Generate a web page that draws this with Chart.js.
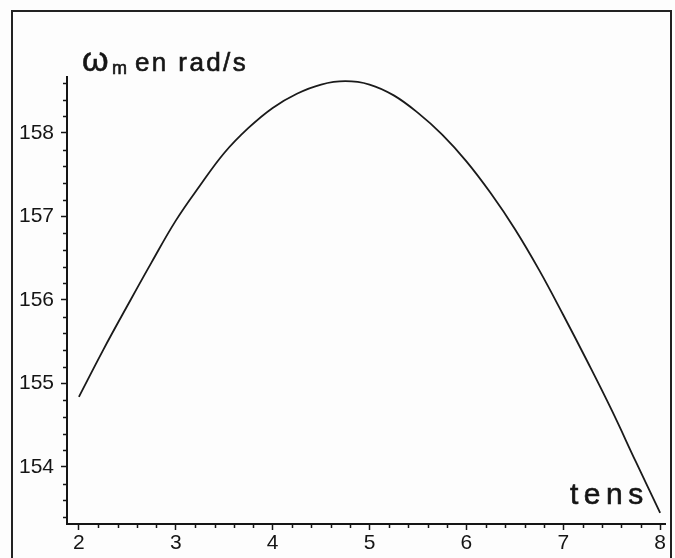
<!DOCTYPE html>
<html>
<head>
<meta charset="utf-8">
<script src="https://cdn.jsdelivr.net/npm/chart.js@4/dist/chart.umd.min.js"></script>
<style>
  html, body { margin: 0; padding: 0; background: #fff; }
  #wrap { width: 675px; height: 558px; }
</style>
</head>
<body>
<div id="wrap"><canvas id="omegaChart" width="675" height="558"></canvas></div>
<script>
// time t (s) and motor speed (rad/s)
const tValues = [2, 2.25, 2.5, 2.75, 3, 3.25, 3.5, 3.75, 4, 4.25, 4.5, 4.75, 5, 5.25, 5.5, 5.75, 6, 6.25, 6.5, 6.75, 7, 7.25, 7.5, 7.75, 8];
const omegaValues = [154.84, 155.40, 155.93, 156.45, 156.95, 157.37, 157.76, 158.06, 158.30, 158.47, 158.58, 158.62, 158.58, 158.45, 158.24, 157.98, 157.66, 157.28, 156.85, 156.36, 155.82, 155.26, 154.68, 154.06, 153.45];

// axis limits and labelled ticks
const xRange = [1.877, 8.05];
const yRange = [153.317, 158.67];
const xMajor = [2, 3, 4, 5, 6, 7, 8];
const yMajor = [154, 155, 156, 157, 158];

const INK = '#151515';
const tickFont = { family: '"Liberation Sans", Arial, sans-serif', size: 21 };

const isMajor = (v, list) => list.some(m => Math.abs(m - v) < 1e-6);

// text drawn one glyph at a time, slightly thickened like the scan
function spacedText(ctx, str, x, y, gap) {
  for (const ch of str) {
    ctx.fillText(ch, x, y);
    ctx.strokeText(ch, x, y);
    x += ctx.measureText(ch).width + gap;
  }
  return x;
}

/* ------------------------------
   frame, titles, minor ticks
------------------------------ */
const decorations = {
  id: 'decorations',
  beforeDraw(chart) {
    const { ctx } = chart;
    ctx.save();
    ctx.fillStyle = '#fdfdfd';
    ctx.fillRect(0, 0, chart.width, chart.height);
    ctx.strokeStyle = '#222';
    ctx.lineWidth = 2;
    ctx.beginPath();
    ctx.moveTo(12, 558);
    ctx.lineTo(12, 11);
    ctx.lineTo(671, 11);
    ctx.lineTo(671, 558);
    ctx.stroke();
    ctx.restore();
  },
  afterDraw(chart) {
    const { ctx } = chart;
    const xs = chart.scales.x, ys = chart.scales.y;
    ctx.save();
    ctx.strokeStyle = INK;
    ctx.lineWidth = 1.5;
    ctx.beginPath();
    xs.ticks.forEach(t => {
      if (isMajor(t.value, xMajor)) return;
      const px = Math.round(xs.getPixelForValue(t.value)) + 0.5;
      ctx.moveTo(px, xs.top);
      ctx.lineTo(px, xs.top + 4);
    });
    ys.ticks.forEach(t => {
      if (isMajor(t.value, yMajor)) return;
      const py = Math.round(ys.getPixelForValue(t.value)) + 0.5;
      ctx.moveTo(ys.right, py);
      ctx.lineTo(ys.right - 4, py);
    });
    ctx.stroke();

    // y title: omega_m en rad/s
    ctx.fillStyle = INK;
    ctx.lineWidth = 0.6;
    ctx.textBaseline = 'alphabetic';
    ctx.font = '34px "Liberation Sans", Arial, sans-serif';
    spacedText(ctx, 'ω', 82, 71, 0);
    ctx.font = '18px "Liberation Sans", Arial, sans-serif';
    spacedText(ctx, 'm', 112, 74, 0);
    ctx.font = '26px "Liberation Sans", Arial, sans-serif';
    spacedText(ctx, 'en rad/s', 135, 71, 2.4);

    // x title: t en s
    ctx.font = '30px "Liberation Sans", Arial, sans-serif';
    spacedText(ctx, 'tens', 570, 504, 5.5);
    ctx.restore();
  }
};

new Chart(document.getElementById('omegaChart'), {
  type: 'line',
  data: {
    datasets: [{
      label: 'omega_m',
      data: tValues.map((t, i) => ({ x: t, y: omegaValues[i] })),
      borderColor: '#1a1a1a',
      borderWidth: 1.8,
      pointRadius: 0,
      tension: 0.4,
      fill: false
    }]
  },
  options: {
    responsive: false,
    animation: false,
    layout: { padding: { top: 77, right: 10, left: 0, bottom: 0 } },
    plugins: {
      legend: { display: false },
      tooltip: { enabled: false }
    },
    scales: {
      x: {
        type: 'linear',
        min: xRange[0],
        max: xRange[1],
        afterFit: s => { s.height = 34; },
        border: { display: true, color: INK, width: 2 },
        grid: {
          drawOnChartArea: false,
          tickLength: 6,
          tickWidth: 1.5,
          tickColor: c => isMajor(c.tick.value, xMajor) ? INK : 'rgba(0,0,0,0)'
        },
        ticks: {
          stepSize: 0.2,
          maxTicksLimit: 40,
          includeBounds: false,
          autoSkip: false,
          maxRotation: 0,
          padding: 1,
          color: INK,
          font: tickFont,
          callback: v => isMajor(v, xMajor) ? String(Math.round(v)) : ''
        }
      },
      y: {
        type: 'linear',
        min: yRange[0],
        max: yRange[1],
        afterFit: s => { s.width = 67; },
        border: { display: true, color: INK, width: 2 },
        grid: {
          drawOnChartArea: false,
          tickLength: 6,
          tickWidth: 1.5,
          tickColor: c => isMajor(c.tick.value, yMajor) ? INK : 'rgba(0,0,0,0)'
        },
        ticks: {
          stepSize: 0.2,
          maxTicksLimit: 40,
          includeBounds: false,
          autoSkip: false,
          padding: 7,
          color: INK,
          font: tickFont,
          callback: v => isMajor(v, yMajor) ? String(Math.round(v)) : ''
        }
      }
    }
  },
  plugins: [decorations]
});
</script>
</body>
</html>
